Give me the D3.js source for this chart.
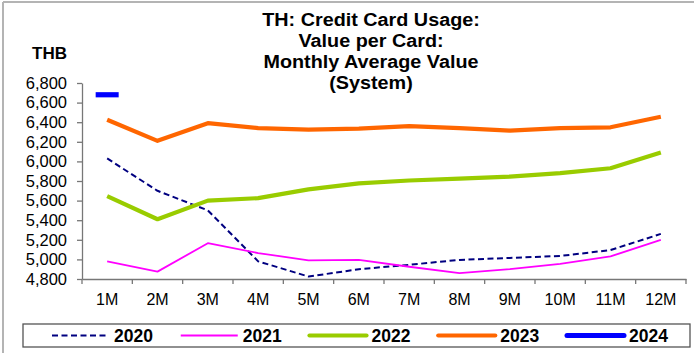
<!DOCTYPE html>
<html>
<head>
<meta charset="utf-8">
<script src="https://cdn.jsdelivr.net/npm/d3@7"></script>
<style>
  html, body { margin: 0; padding: 0; background: #fff; }
  svg { display: block; font-family: Arial, "Liberation Sans", sans-serif; }
</style>
</head>
<body>
<svg id="chart" width="694" height="353"></svg>
<script>
// Monthly average value per credit card, THB
const months = ["1M","2M","3M","4M","5M","6M","7M","8M","9M","10M","11M","12M"];
const yTicks = [4800, 5000, 5200, 5400, 5600, 5800, 6000, 6200, 6400, 6600, 6800];
const titleLines = ["TH: Credit Card Usage:", "Value per Card:", "Monthly Average Value", "(System)"];

const v2020 = [6030, 5700, 5500, 4980, 4825, 4900, 4945, 4995, 5015, 5035, 5095, 5260];
const v2021 = [4980, 4875, 5165, 5065, 4990, 4995, 4925, 4860, 4900, 4955, 5030, 5200];
const v2022 = [5645, 5410, 5600, 5625, 5715, 5775, 5805, 5825, 5845, 5880, 5930, 6090];
const v2023 = [6425, 6210, 6390, 6340, 6325, 6335, 6360, 6340, 6315, 6340, 6348, 6455];
const v2024 = [6680];

const series = [
  { name: "2020", values: v2020, color: "#000080", width: 2,   dash: "6,3.5" },
  { name: "2021", values: v2021, color: "#FF00FF", width: 1.8, dash: null },
  { name: "2022", values: v2022, color: "#99CC00", width: 4.2, dash: null },
  { name: "2023", values: v2023, color: "#FF6600", width: 4.2, dash: null },
  { name: "2024", values: v2024, color: "#0000FF", width: 5,   dash: null }
];

const svg = d3.select("#chart");

// frame edges
svg.append("line").attr("x1", 3).attr("x2", 694).attr("y1", 2).attr("y2", 2)
  .attr("stroke", "#b4b4b4").attr("stroke-width", 2);
svg.append("line").attr("x1", 3).attr("x2", 3).attr("y1", 2).attr("y2", 353)
  .attr("stroke", "#b4b4b4").attr("stroke-width", 2);

const x = d3.scaleBand().domain(months).range([82, 686]);
const y = d3.scaleLinear().domain([4800, 6800]).range([279, 83]);

// title, slightly widened
const title = svg.append("text").attr("text-anchor", "middle")
  .attr("transform", "translate(371,0) scale(1.07,1)")
  .attr("font-weight", "bold").attr("font-size", 18.5).attr("fill", "#000");
titleLines.forEach((t, i) => {
  title.append("tspan").attr("x", 0).attr("y", 26 + i * 21).text(t);
});

svg.append("text").attr("x", 32).attr("y", 59).attr("font-weight", "bold")
  .attr("font-size", 17).text("THB");

// y axis
const yAxis = svg.append("g").attr("transform", "translate(82,0)")
  .call(d3.axisLeft(y).tickValues(yTicks).tickFormat(d3.format(",")).tickSize(5).tickSizeOuter(0).tickPadding(10));
yAxis.selectAll("text").attr("font-size", 16.5).attr("fill", "#000").attr("font-family", "Arial, 'Liberation Sans', sans-serif");
yAxis.selectAll("line, path").attr("stroke", "#777").attr("stroke-width", 1.3);

// x axis: labels centred in each band, ticks on band edges
const xAxis = svg.append("g").attr("transform", "translate(0,279)")
  .call(d3.axisBottom(x).tickSize(0).tickSizeOuter(0).tickPadding(14.5));
xAxis.selectAll("text").attr("font-size", 16).attr("fill", "#000").attr("font-family", "Arial, 'Liberation Sans', sans-serif");
xAxis.select("path.domain").attr("stroke", "#777").attr("stroke-width", 1.3);
const edges = months.map(m => x(m)).concat([x(months[months.length - 1]) + x.bandwidth()]);
xAxis.selectAll("line.edge").data(edges).join("line").attr("class", "edge")
  .attr("x1", d => d).attr("x2", d => d).attr("y1", 0).attr("y2", 5)
  .attr("stroke", "#777").attr("stroke-width", 1.3);

const cx = (d, i) => x(months[i]) + x.bandwidth() / 2;
const line = d3.line().x(cx).y(d => y(d));

series.forEach(s => {
  if (s.values.length > 1) {
    svg.append("path").datum(s.values)
      .attr("d", line).attr("fill", "none")
      .attr("stroke", s.color).attr("stroke-width", s.width)
      .attr("stroke-linejoin", "round")
      .attr("stroke-dasharray", s.dash);
  } else {
    // single value: dash marker at the point
    svg.selectAll(null).data(s.values).join("line")
      .attr("x1", (d, i) => cx(d, i) - 11.5).attr("x2", (d, i) => cx(d, i) + 11.5)
      .attr("y1", d => y(d)).attr("y2", d => y(d))
      .attr("stroke", s.color).attr("stroke-width", 5.2);
  }
});

// legend
svg.append("rect").attr("x", 23).attr("y", 324).attr("width", 667).attr("height", 23)
  .attr("fill", "#fff").attr("stroke", "#555").attr("stroke-width", 1.3);
const legendX = d3.scalePoint().domain(series.map(s => s.name)).range([52, 567]);
const lg = svg.selectAll("g.leg").data(series).join("g").attr("class", "leg")
  .attr("transform", d => `translate(${legendX(d.name)},0)`);
lg.append("line").attr("x1", 0).attr("x2", 57).attr("y1", 335.5).attr("y2", 335.5)
  .attr("stroke", d => d.color).attr("stroke-width", d => d.width)
  .attr("stroke-dasharray", d => d.dash)
  .attr("stroke-linecap", d => d.width > 3 ? "round" : "butt");
lg.append("text").attr("x", 62).attr("y", 341.5).attr("font-weight", "bold")
  .attr("font-size", 17.5).text(d => d.name);
</script>
</body>
</html>
